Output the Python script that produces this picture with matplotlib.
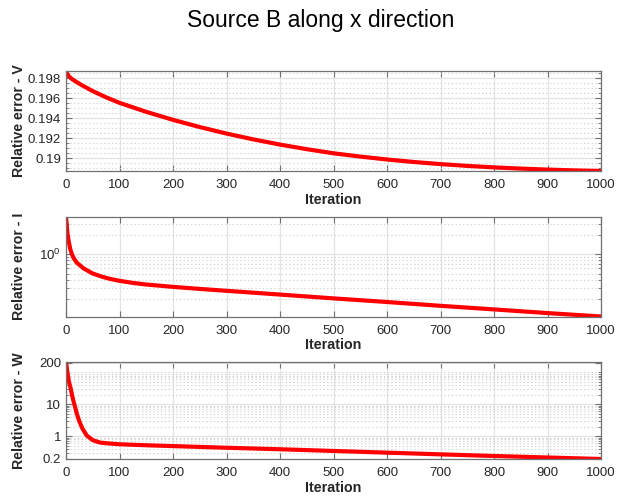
import numpy as np
import matplotlib
matplotlib.use("Agg")
import matplotlib.pyplot as plt
from matplotlib.ticker import FixedLocator, MultipleLocator, NullFormatter

plt.rcParams['font.family'] = ['Liberation Sans', 'DejaVu Sans']
plt.rcParams['mathtext.fontset'] = 'custom'
plt.rcParams['mathtext.rm'] = 'Liberation Sans'
plt.rcParams['mathtext.it'] = 'Liberation Sans'

# ---------------- data ----------------
iter_v = [0, 2, 5, 10, 20, 30, 50, 75, 100, 150, 200, 250, 300, 350, 400, 450, 500,
          550, 600, 650, 700, 750, 800, 850, 900, 950, 1000]
err_v = [0.19873, 0.19848, 0.19823, 0.19797, 0.19762, 0.19730, 0.19672, 0.19610,
         0.19555, 0.19465, 0.19385, 0.19313, 0.19248, 0.19190, 0.19138, 0.19092,
         0.19051, 0.19018, 0.18989, 0.18964, 0.18943, 0.18925, 0.18910, 0.18898,
         0.18888, 0.18880, 0.18874]

iter_i = [0, 1, 2, 3, 5, 8, 11, 15, 20, 33, 50, 67, 80, 100, 125, 150, 200, 250, 300,
          400, 500, 600, 700, 800, 900, 1000]
err_i = [3.87, 3.1, 2.5, 2.0, 1.6, 1.2, 1.0, 0.85, 0.74, 0.60, 0.50, 0.447, 0.417,
         0.385, 0.357, 0.337, 0.310, 0.288, 0.269, 0.235, 0.205, 0.180, 0.157, 0.138,
         0.121, 0.107]

iter_w = [0, 1, 2.5, 5, 8.7, 12, 15.6, 20, 25, 31, 38.8, 50, 64, 80, 100, 130, 160,
          200, 300, 400, 500, 600, 700, 800, 900, 1000]
err_w = [220, 160, 105, 55, 31.7, 17, 10, 5.2, 2.9, 1.7, 1.05, 0.75, 0.63, 0.592,
         0.56, 0.535, 0.514, 0.49, 0.435, 0.39, 0.345, 0.305, 0.27, 0.24, 0.215, 0.193]

xticks = [0, 100, 200, 300, 400, 500, 600, 700, 800, 900, 1000]
yticks_v = [0.19, 0.192, 0.194, 0.196, 0.198]
ytick_labels_v = ['0.19', '0.192', '0.194', '0.196', '0.198']
yticks_w = [0.2, 1, 10, 200]
ytick_labels_w = ['0.2', '1', '10', '200']

title = 'Source B along x direction'
ylabels = ['Relative error - V', 'Relative error - I', 'Relative error - W']
xlabel = 'Iteration'

# ---------------- figure ----------------
W, H = 617, 499
fig = plt.figure(figsize=(W / 100, H / 100), dpi=100)

def frac(left, top, right, bottom):
    return [left / W, 1 - bottom / H, (right - left) / W, (bottom - top) / H]

ax1 = fig.add_axes(frac(66, 71, 601, 171))
ax2 = fig.add_axes(frac(66, 216.5, 601, 316.5))
ax3 = fig.add_axes(frac(66, 361.5, 601, 459))

spine_c = '#707070'
text_c = '#262626'
major_grid = '#e3e3e3'
minor_grid = '#d2d2d2'

def style(ax, ylab):
    for s in ax.spines.values():
        s.set_color(spine_c)
        s.set_linewidth(0.9)
    ax.set_xlim(0, 1000)
    ax.xaxis.set_major_locator(FixedLocator(xticks))
    ax.tick_params(which='both', direction='in', top=True, right=True,
                   colors=spine_c, labelcolor=text_c, labelsize=9.5)
    ax.tick_params(which='major', length=4, width=0.8)
    ax.tick_params(axis='x', which='major', pad=6)
    ax.tick_params(which='minor', length=2.2, width=0.6)
    ax.tick_params(axis='x', which='minor', bottom=False, top=False)
    ax.set_axisbelow(True)
    ax.grid(True, which='major', color=major_grid, linewidth=0.9, linestyle='-')
    ax.grid(True, which='minor', axis='y', color=minor_grid, linewidth=0.8,
            linestyle=(0, (1.2, 2.2)))
    ax.set_xlabel(xlabel, fontsize=10.3, fontweight='bold', color=text_c, labelpad=1)
    ax.set_ylabel(ylab, fontsize=10.2, fontweight='bold', color=text_c)

# top: V (linear)
ax1.plot(iter_v, err_v, color='#ff0000', linewidth=3, solid_capstyle='butt')
style(ax1, ylabels[0])
ax1.set_ylim(min(err_v), max(err_v))
ax1.yaxis.set_major_locator(FixedLocator(yticks_v))
ax1.set_yticklabels(ytick_labels_v)
ax1.yaxis.set_minor_locator(MultipleLocator(0.0005))

# middle: I (log)
ax2.plot(iter_i, err_i, color='#ff0000', linewidth=3, solid_capstyle='butt')
ax2.set_yscale('log')
style(ax2, ylabels[1])
ax2.set_ylim(min(err_i), max(err_i))
ax2.yaxis.set_major_locator(FixedLocator([1]))
ax2.set_yticklabels(['$10^0$'])
ax2.yaxis.set_minor_locator(FixedLocator([0.2, 0.3, 0.4, 0.5, 0.6, 0.7, 0.8, 0.9, 2, 3]))
ax2.yaxis.set_minor_formatter(NullFormatter())

# bottom: W (log)
ax3.plot(iter_w, err_w, color='#ff0000', linewidth=3, solid_capstyle='butt')
ax3.set_yscale('log')
style(ax3, ylabels[2])
ax3.set_ylim(min(err_w), max(err_w))
ax3.yaxis.set_major_locator(FixedLocator(yticks_w))
ax3.set_yticklabels(ytick_labels_w)
minors = [m * d for d in (0.1, 1, 10, 100) for m in range(2, 10)] + [100]
minors = [v for v in minors if v not in yticks_w]
ax3.yaxis.set_minor_locator(FixedLocator(minors))
ax3.yaxis.set_minor_formatter(NullFormatter())

for ax in (ax1, ax2, ax3):
    ax.yaxis.set_label_coords(-0.074, 0.5)

fig.text(321 / W, 1 - 20 / H, title, ha='center', va='center', fontsize=16.5, color='black')

fig.savefig('out.png', dpi=100)
